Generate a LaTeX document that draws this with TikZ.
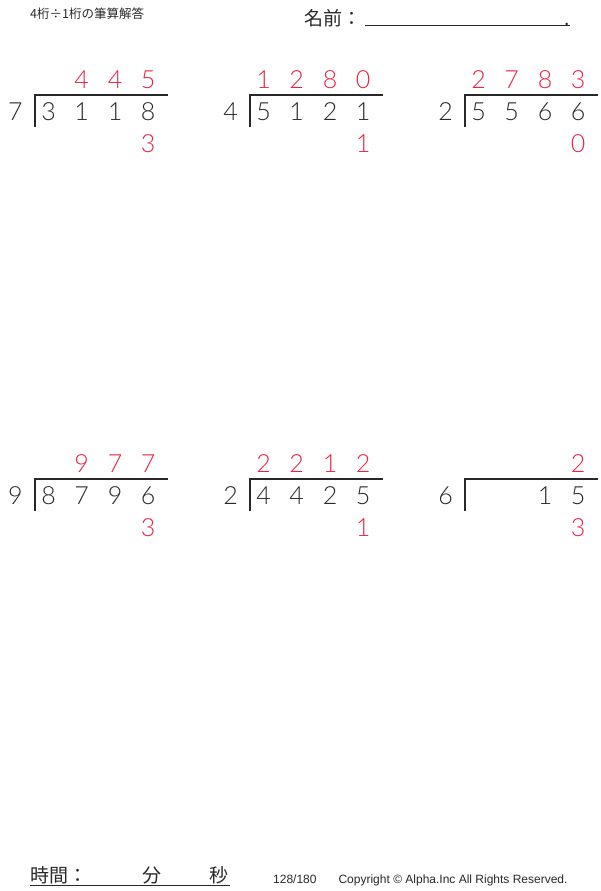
\documentclass[tikz,border=0pt]{standalone}
\usepackage{fontspec}
\setmainfont{Lato}[UprightFont=* Light]
\newfontfamily\jpfont{Noto Sans CJK JP}
\newfontfamily\notefont{Liberation Sans}
\usetikzlibrary{positioning}
\definecolor{ansred}{RGB}{232,35,70}
\definecolor{ink}{RGB}{40,40,40}
\tikzset{
	digit/.style={
		font=\fontsize{25}{25}\selectfont,
		text=ink,
		inner sep=0pt
	},
	answer/.style={
		digit,
		text=ansred
	},
	bracket/.style={
		draw=ink,
		line width=1.2pt
	},
	smalljp/.style={
		font=\jpfont\fontsize{12.5}{12.5}\selectfont,
		text=ink,
		inner sep=0pt,
		anchor=west
	},
	bigjp/.style={
		font=\jpfont\fontsize{19}{19}\selectfont,
		text=ink,
		inner sep=0pt
	},
	rule/.style={
		draw=ink,
		line width=1pt
	}
}

\begin{document}
\begin{tikzpicture}[x=1pt,y=-1pt]
	\useasboundingbox (0,0) rectangle (600,891);
	% header
	\node[smalljp] (title) at (30,14) {4桁÷1桁の筆算解答};
	\node[bigjp,anchor=west] (name) at (304,18) {名前：};
	\coordinate (namestart) at (365,26);
	\coordinate (nameend) at (570,26);
	\draw[rule] (namestart) -- (nameend);
	\node[bigjp,anchor=south east] (dot) at (nameend) {.};

	% problems
	\foreach \bx/\by/\dv/\da/\db/\dc/\dd/\qa/\qb/\qc/\qd/\r/\n in {
		0/0/7/3/1/1/8/{}/4/4/5/3/a,
		215/0/4/5/1/2/1/1/2/8/0/1/b,
		430/0/2/5/5/6/6/2/7/8/3/0/c,
		0/384/9/8/7/9/6/{}/9/7/7/3/d,
		215/384/2/4/4/2/5/2/2/1/2/1/e,
		430/384/6/{}/{}/1/5/{}/{}/{}/2/3/f
	}{
		\node[digit] (dv\n) at (\bx+15.5,\by+112) {\dv};
		\node[digit] (n\n1) at (\bx+48.5,\by+112) {\da};
		\node[digit] (n\n2) at (\bx+81.5,\by+112) {\db};
		\node[digit] (n\n3) at (\bx+115,\by+112) {\dc};
		\node[digit] (n\n4) at (\bx+148,\by+112) {\dd};
		\node[answer] (q\n1) at (\bx+48.5,\by+80) {\qa};
		\node[answer] (q\n2) at (\bx+81.5,\by+80) {\qb};
		\node[answer] (q\n3) at (\bx+115,\by+80) {\qc};
		\node[answer] (q\n4) at (\bx+148,\by+80) {\qd};
		\node[answer] (r\n) at (\bx+148,\by+143.5) {\r};
		\coordinate (bot\n) at (\bx+35,\by+127);
		\coordinate (top\n) at (\bx+35,\by+95);
		\coordinate (end\n) at (\bx+168,\by+95);
		\draw[bracket] (bot\n) -- (top\n) -- (end\n);
	}

	% footer
	\node[bigjp,anchor=west] (time) at (30,875) {時間：};
	\node[bigjp] (minute) at (152,875) {分};
	\node[bigjp] (second) at (219,875) {秒};
	\coordinate (timestart) at (30,885);
	\coordinate (timeend) at (230,885);
	\draw[rule] (timestart) -- (timeend);
	\node[font=\notefont\fontsize{12}{12}\selectfont,text=ink,inner sep=0pt,anchor=west] (copy) at (273,880)
		{128/180\hspace{22pt}Copyright © Alpha.Inc All Rights Reserved.};
\end{tikzpicture}
\end{document}
